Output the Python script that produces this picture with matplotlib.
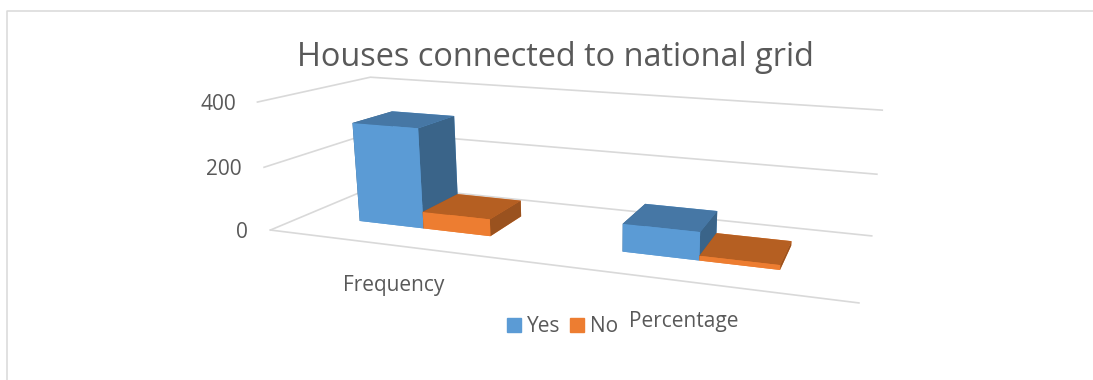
"""Houses connected to national grid, a 3D column chart in the office style."""
import matplotlib
matplotlib.use("Agg")
import matplotlib.pyplot as plt
from matplotlib.lines import Line2D
from matplotlib.patches import Patch

# Section: Data
# ---
categories = ["Frequency", "Percentage"]
yes_values = [320, 85.6]
no_values = [54, 14.4]
series_names = ["Yes", "No"]
z_ticks = [0, 200, 400]

# Section: Style
# ---
W, H = 1093, 380
plt.rcParams['font.family'] = ['Open Sans', 'DejaVu Sans']
TEXT = "#595959"
GRID = "#D9D9D9"
# faces in bar3d order: bottom, top, front, back, left, right
YES_FACES = ["#5B9BD5", "#4677A5", "#5B9BD5", "#5B9BD5", "#3A6489", "#3A6489"]
NO_FACES = ["#ED7D31", "#B55F22", "#ED7D31", "#ED7D31", "#9A521F", "#9A521F"]
BAR_LEFT = 0.225
BAR_W = 0.26
BAR_Y = 0.3
BAR_D = 0.385

# Section: Camera, worked out from the vanishing points of the walls
# ---
S = 744.5   # side of the square 3d axes, pixels
cx, cy = 656, 181   # where the view centre falls, pixels from top left
left = cx - 0.5135 * S
bottom = (H - cy) - 0.5135 * S

fig = plt.figure(figsize=(W / 100, H / 100), dpi=100)
ax = fig.add_axes([left / W, bottom / H, S / W, S / H], projection='3d', computed_zorder=False)
ax.set_proj_type('persp', focal_length=0.2167)
ax.view_init(elev=14.8, azim=-73.6, roll=-0.97)
ax.set_xlim(0, 2.511)
ax.set_ylim(0, 1.4535)
ax.set_zlim(0, 312.8)
ax.set_box_aspect((2.618, 0.968, 0.366))
ax.set_axis_off()

# Section: Walls and floor
# ---
# the left wall reaches past the edge of the square axes, so no clipping here
n_cat = len(categories)
for t in z_ticks:
    ax.plot([0, 0, n_cat], [0, 1, 1], [t, t, t], color=GRID, lw=1.2, zorder=1, clip_on=False)
ax.plot([0, n_cat], [0, 0], [0, 0], color=GRID, lw=1.2, zorder=1, clip_on=False)

# Section: Columns
# ---
z = 2
for i in range(n_cat):
    ax.bar3d(i + BAR_LEFT, BAR_Y, 0, BAR_W, BAR_D, yes_values[i], color=YES_FACES,
             shade=False, edgecolor='none', zorder=z)
    ax.bar3d(i + BAR_LEFT + BAR_W, BAR_Y, 0, BAR_W, BAR_D, no_values[i], color=NO_FACES,
             shade=False, edgecolor='none', zorder=z + 1)
    z += 2

# Section: Text
# ---
fig.text(297 / W, 1 - 66 / H, "Houses connected to national grid", fontsize=23.4, color=TEXT,
         ha='left', va='baseline')
for t, x, y in zip(z_ticks, [248, 242, 236.7], [238, 175, 110]):
    fig.text(x / W, 1 - y / H, str(t), fontsize=15, color=TEXT, ha='right', va='baseline')
fig.text(343 / W, 1 - 291 / H, categories[0], fontsize=15, color=TEXT, ha='left', va='baseline')
fig.text(629 / W, 1 - 327 / H, categories[1], fontsize=15, color=TEXT, ha='left', va='baseline')

handles = [Patch(color=YES_FACES[0]), Patch(color=NO_FACES[0])]
fig.legend(handles, series_names, loc='center', bbox_to_anchor=(562.5 / W, 1 - 327 / H), ncols=2,
           frameon=False, fontsize=15, labelcolor=TEXT, handlelength=0.67, handleheight=0.67,
           handletextpad=0.3, columnspacing=0.45, borderpad=0)

# Section: Outer frame
# ---
fig.add_artist(Line2D([6.5 / W, 6.5 / W, 1], [0, 1 - 10.5 / H, 1 - 10.5 / H], color=GRID, lw=1.1))

fig.savefig("out.png", dpi=100)
